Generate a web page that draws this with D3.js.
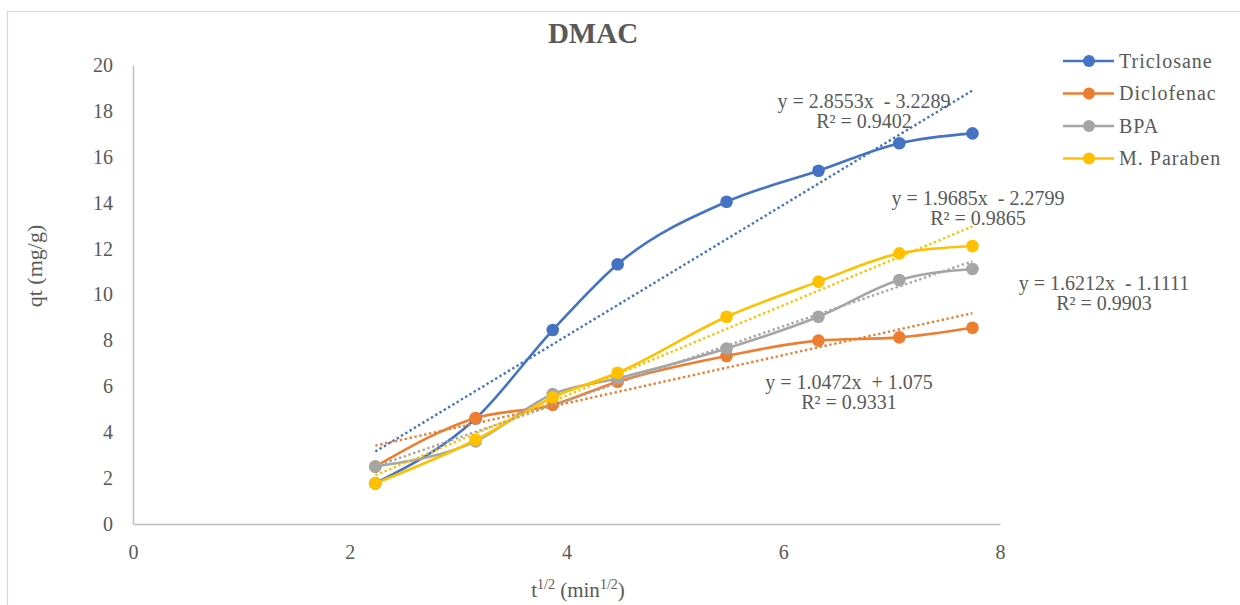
<!DOCTYPE html>
<html><head><meta charset="utf-8">
<script src="https://cdn.jsdelivr.net/npm/d3@7"></script>
</head><body style="margin:0;background:#fff">
<svg id="c" width="1240" height="605" font-family="Liberation Serif" fill="#595959"></svg>
<script>
// ---- data ----
const chartTitle = "DMAC";
const xValues = [2.236, 3.162, 3.873, 4.472, 5.477, 6.325, 7.071, 7.746];
const seriesNames = ["Triclosane", "Diclofenac", "BPA", "M. Paraben"];
const triclosane = [1.77, 4.60, 8.45, 11.32, 14.04, 15.39, 16.59, 17.02];
const diclofenac = [2.50, 4.62, 5.19, 6.20, 7.32, 7.99, 8.13, 8.55];
const bpa        = [2.50, 3.60, 5.66, 6.35, 7.65, 9.03, 10.63, 11.11];
const mParaben   = [1.77, 3.66, 5.52, 6.59, 9.03, 10.56, 11.79, 12.11];
const slopes     = [2.8553, 1.0472, 1.6212, 1.9685];
const intercepts = [-3.2289, 1.075, -1.1111, -2.2799];
const eqTexts    = ["y = 2.8553x  - 3.2289", "y = 1.0472x  + 1.075", "y = 1.6212x  - 1.1111", "y = 1.9685x  - 2.2799"];
const r2Texts    = ["R² = 0.9402", "R² = 0.9331", "R² = 0.9903", "R² = 0.9865"];
const xTicks = [0, 2, 4, 6, 8];
const yTicks = [0, 2, 4, 6, 8, 10, 12, 14, 16, 18, 20];

// ---- styles / layout ----
const FONT = "Liberation Serif";
const TXT = "#595959";
const colors = ["#4472C4", "#ED7D31", "#A5A5A5", "#FFC000"];
const eqPos = [[864, 108], [849, 389], [1104, 290], [978, 205]];
const seriesValues = [triclosane, diclofenac, bpa, mParaben];

const svg = d3.select("#c");
svg.append("rect").attr("x", 7.5).attr("y", 11.5).attr("width", 1240).attr("height", 600)
  .attr("fill", "#fff").attr("stroke", "#d9d9d9").attr("stroke-width", 1.2);

const x = d3.scaleLinear().domain([0, 8]).range([133, 1000]);
const y = d3.scaleLinear().domain([0, 20]).range([524, 65]);

// axes
const xAxis = svg.append("g").attr("transform", "translate(0,524)")
  .call(d3.axisBottom(x).tickValues(xTicks).tickSize(0).tickPadding(21));
const yAxis = svg.append("g").attr("transform", "translate(133,0)")
  .call(d3.axisLeft(y).tickValues(yTicks).tickSize(0).tickPadding(20));
[xAxis, yAxis].forEach(a => {
  a.attr("font-family", FONT).attr("font-size", 20);
  a.select(".domain").attr("stroke", "#bfbfbf").attr("stroke-width", 1.5);
  a.selectAll("text").attr("fill", TXT).attr("font-family", FONT).attr("font-size", 20);
});

// title
svg.append("text").attr("x", 593).attr("y", 43).attr("text-anchor", "middle")
  .attr("font-family", FONT).attr("font-size", 29).attr("font-weight", "bold")
  .attr("fill", TXT).text(chartTitle);

// axis titles
svg.append("text").attr("transform", "translate(42,266) rotate(-90)")
  .attr("text-anchor", "middle").attr("font-family", FONT).attr("font-size", 22)
  .attr("fill", TXT).text("qt (mg/g)");
const xt = svg.append("text").attr("x", 578).attr("y", 597).attr("text-anchor", "middle")
  .attr("font-family", FONT).attr("font-size", 21).attr("fill", TXT);
xt.append("tspan").text("t");
xt.append("tspan").attr("dy", -8).attr("font-size", 14).text("1/2");
xt.append("tspan").attr("dy", 8).text(" (min");
xt.append("tspan").attr("dy", -8).attr("font-size", 14).text("1/2");
xt.append("tspan").attr("dy", 8).text(")");

// series lines
const line = d3.line().x(d => x(d[0])).y(d => y(d[1])).curve(d3.curveMonotoneX);
seriesValues.forEach((vals, i) => {
  const pts = xValues.map((xv, j) => [xv, vals[j]]);
  const g = svg.append("g");
  g.append("path").attr("d", line(pts)).attr("fill", "none")
    .attr("stroke", colors[i]).attr("stroke-width", 2.6);
  g.selectAll("circle").data(pts).enter().append("circle")
    .attr("cx", d => x(d[0])).attr("cy", d => y(d[1])).attr("r", 6.3)
    .attr("fill", colors[i]);
});

// trendlines
seriesValues.forEach((vals, i) => {
  const x0 = d3.min(xValues), x1 = d3.max(xValues);
  svg.append("line")
    .attr("x1", x(x0)).attr("y1", y(slopes[i] * x0 + intercepts[i]))
    .attr("x2", x(x1)).attr("y2", y(slopes[i] * x1 + intercepts[i]))
    .attr("stroke", colors[i]).attr("stroke-width", 2.4).attr("stroke-dasharray", "2.4,2.6");
});

// equation labels
seriesValues.forEach((vals, i) => {
  const [cx, by] = eqPos[i];
  svg.append("text").attr("x", cx).attr("y", by).attr("text-anchor", "middle")
    .attr("xml:space", "preserve").style("white-space", "pre")
    .attr("font-family", FONT).attr("font-size", 20).attr("fill", TXT).text(eqTexts[i]);
  svg.append("text").attr("x", cx).attr("y", by + 20).attr("text-anchor", "middle")
    .attr("font-family", FONT).attr("font-size", 20).attr("fill", TXT).text(r2Texts[i]);
});

// legend
const leg = svg.append("g");
seriesNames.forEach((n, i) => {
  const ly = 61 + i * 32.5;
  leg.append("line").attr("x1", 1063).attr("x2", 1114).attr("y1", ly).attr("y2", ly)
    .attr("stroke", colors[i]).attr("stroke-width", 2.6);
  leg.append("circle").attr("cx", 1089).attr("cy", ly).attr("r", 6).attr("fill", colors[i]);
  leg.append("text").attr("x", 1119).attr("y", ly + 6.5)
    .attr("font-family", FONT).attr("font-size", 20).attr("letter-spacing", 1)
    .attr("fill", TXT).text(n);
});
</script>
</body></html>
